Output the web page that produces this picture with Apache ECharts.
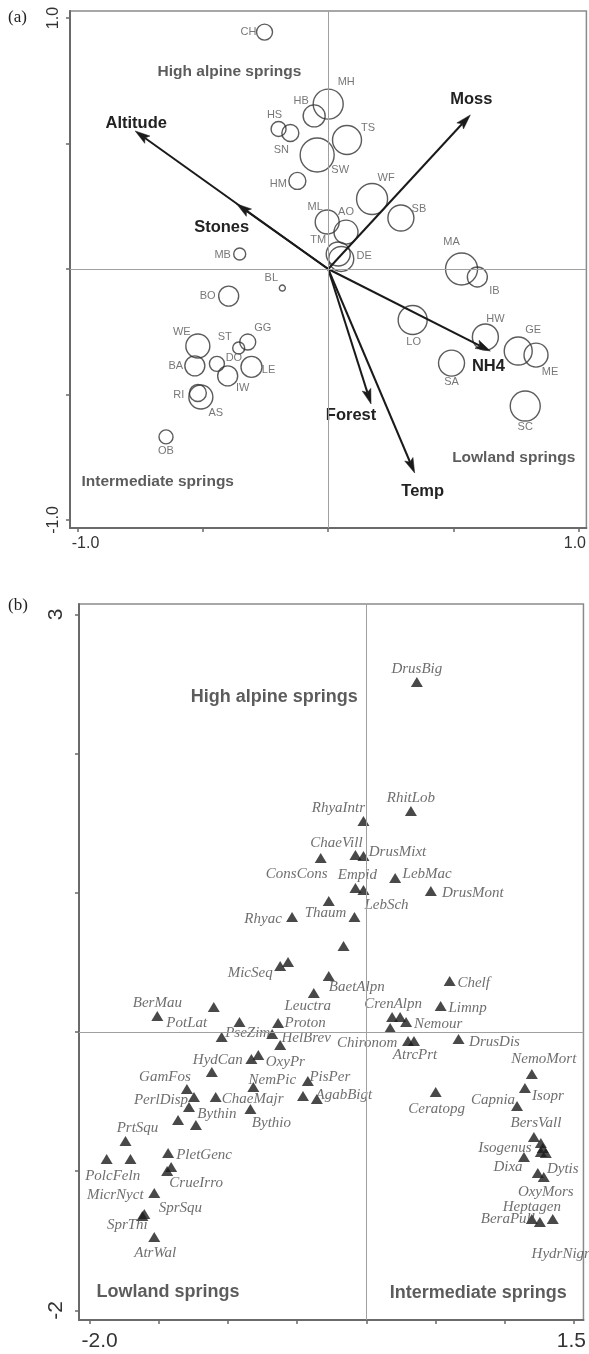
<!DOCTYPE html>
<html><head><meta charset="utf-8">
<script src="https://cdn.jsdelivr.net/npm/echarts@6/dist/echarts.min.js"></script>
<style>html,body{margin:0;padding:0;background:#fff}#c{width:589px;height:1354px}</style>
</head><body><div id="c"></div>
<script>
// ---------- Panel (a): sites ----------
const siteNames = ['CH','HS','SN','HM','HB','MH','TS','SW','WF','SB','ML','AO','TM','DE','MB','BL','BO','WE','ST','GG','DO','BA','LE','IW','RI','AS','OB','MA','IB','LO','HW','SA','GE','ME','SC'];
const siteX = [-0.254,-0.198,-0.151,-0.123,-0.056,0.000,0.075,-0.044,0.175,0.290,-0.004,0.071,0.040,0.052,-0.353,-0.183,-0.397,-0.520,-0.357,-0.321,-0.444,-0.532,-0.306,-0.401,-0.520,-0.508,-0.647,0.532,0.595,0.337,0.627,0.492,0.758,0.829,0.786];
const siteY = [0.944,0.558,0.542,0.351,0.610,0.657,0.514,0.454,0.279,0.203,0.187,0.147,0.060,0.040,0.060,-0.076,-0.108,-0.307,-0.315,-0.291,-0.378,-0.386,-0.390,-0.426,-0.494,-0.510,-0.669,0.000,-0.032,-0.203,-0.271,-0.375,-0.327,-0.343,-0.546];
// relative circle size variable
const siteWeight = [16,15,17,17,22,30,29,34,31,26,24,24,24,25,12,6,20,24,12,16,15,20,21,20,17,24,14,32,20,29,26,26,28,24,30];

// environmental vectors
const envNames = ['Altitude','Stones','Moss','NH4','Forest','Temp'];
const envX = [-0.770,-0.365,0.567,0.647,0.171,0.345];
const envY = [0.550,0.259,0.614,-0.327,-0.538,-0.813];

// group annotations
const groupNamesA = ['High alpine springs','Intermediate springs','Lowland springs'];
const groupXA = [-0.394,-0.680,0.740];
const groupYA = [0.785,-0.849,-0.753];

const ticksA = [-1,-0.5,0,0.5,1];
const tickLabelsA = [-1,1];

// ---------- Panel (b): species ----------
const speciesNames = ['DrusBig','RhitLob','RhyaIntr','ConsCons','ChaeVill','DrusMixt','LebMac','DrusMont','Empid','LebSch','','Thaum','Rhyac','','MicSeq','','BaetAlpn','Leuctra','PotLat','BerMau','','Proton','PseZim','HelBrev','','OxyPr','','HydCan','NemPic','GamFos','PerlDisp','','ChaeMajr','Bythin','','Bythio','PrtSqu','PolcFeln','','PletGenc','CrueIrro','','MicrNyct','SprSqu','SprThi','AtrWal','Chelf','Limnp','CrenAlpn','','Nemour','Chironom','AtrcPrt','','DrusDis','NemoMort','Isopr','Capnia','Ceratopg','PisPer','AgabBigt','','BersVall','Isogenus','','','','Dixa','OxyMors','Dytis','HydrNigr','Heptagen','BeraPull','BithTent'];
const speciesX = [0.365,0.322,-0.021,-0.330,-0.079,-0.021,0.208,0.466,-0.079,-0.021,-0.272,-0.086,-0.537,-0.165,-0.623,-0.566,-0.272,-0.380,-1.103,-1.511,-0.917,-0.638,-1.046,-0.681,-0.623,-0.781,-0.831,-1.117,-0.817,-1.297,-1.282,-1.246,-1.089,-1.232,-1.361,-0.838,-1.741,-1.877,-1.705,-1.433,-1.411,-1.440,-1.533,-1.605,-1.619,-1.533,0.602,0.537,0.186,0.244,0.287,0.172,0.301,0.344,0.666,1.196,1.146,1.089,0.501,-0.423,-0.358,-0.458,1.211,1.261,1.275,1.297,1.261,1.139,1.239,1.282,1.347,1.196,1.254];
const speciesY = [2.514,1.588,1.516,1.250,1.272,1.264,1.106,1.013,1.034,1.020,0.941,0.826,0.826,0.618,0.474,0.503,0.402,0.280,0.180,0.115,0.072,0.065,-0.036,-0.014,-0.093,-0.165,-0.194,-0.287,-0.395,-0.409,-0.539,-0.467,-0.467,-0.668,-0.632,-0.553,-0.783,-0.912,-0.912,-0.869,-0.970,-0.999,-1.157,-1.307,-1.322,-1.473,0.366,0.187,0.108,0.108,0.072,0.029,-0.065,-0.065,-0.050,-0.302,-0.402,-0.532,-0.431,-0.352,-0.481,-0.460,-0.754,-0.797,-0.833,-0.869,-0.862,-0.898,-1.013,-1.042,-1.343,-1.343,-1.365,-1.473];

const groupNamesB = ['High alpine springs','Lowland springs','Intermediate springs'];
const groupXB = [-0.666,-1.433,0.809];
const groupYB = [2.407,-1.868,-1.875];

const ticksBX = [-2,-1.5,-1,-0.5,0,0.5,1,1.5];
const ticksBY = [-2,-1,0,1,2,3];
const tickLabelsBX = [-2,1.5];
const tickLabelsBY = [-2,3];

// ---------- styles (label offsets in px) ----------
const siteLabelOffset = [[-16,0],[-4,-14],[-9,17],[-19,3],[-13,-15],[18,-22],[21,-12],[23,15],[14,-21],[18,-9],[-12,-15],[0,-20],[-20,-14],[23,-3],[-17,1],[-11,-10],[-21,0],[-16,-14],[-14,-11],[15,-14],[17,-6],[-19,0],[17,3],[15,12],[-19,2],[15,16],[0,14],[-10,-27],[17,14],[1,22],[10,-18],[0,19],[15,-21],[14,17],[0,21]];
const envLabelOffset = [[1,-8],[-15,23],[1,-15],[-2,15],[-20,11],[8,18]];
const speciesLabelOffset = [[0,-13],[0,-13],[-25,-13],[-24,16],[-19,-12],[34,-4],[32,-4],[42,2],[2,-13],[23,15],[0,0],[-29,-4],[-29,2],[0,0],[-30,7],[0,0],[28,11],[-6,13],[-27,16],[0,-13],[0,0],[27,0],[26,-4],[34,4],[0,0],[27,7],[0,0],[6,-12],[19,-7],[-22,-12],[-28,-7],[0,0],[37,2],[21,-11],[0,0],[21,14],[12,-13],[6,17],[0,0],[36,2],[25,16],[0,0],[-39,2],[36,-6],[-15,9],[1,16],[24,2],[27,2],[1,-13],[0,0],[32,2],[-23,15],[7,14],[0,0],[36,3],[12,-15],[23,8],[-24,-6],[1,17],[22,-4],[27,-4],[0,0],[2,-14],[-36,5],[0,0],[0,0],[0,0],[-16,10],[8,19],[19,-8],[8,35],[0,-12],[-32,-3],[-30,1]];

const SANS = '"Liberation Sans", Arial, Helvetica, sans-serif';
const SERIF = '"Liberation Serif", "Times New Roman", serif';

function fmt1(v){ return (Math.abs(v) < 1e-9 ? 0 : v).toFixed(1); }

function xAxisCfg(gi, min, max, ticks, labels, fontSize, margin, negPad, posPad, fmt){
  return {
    type:'value', gridIndex:gi, min:min, max:max, position:'bottom',
    axisLine:{show:true, onZero:false, lineStyle:{color:'#6a6a6a', width:2}},
    axisTick:{show:true, inside:false, length:4, customValues:ticks, lineStyle:{color:'#6a6a6a', width:1.5}},
    axisLabel:{show:true, customValues:labels, margin:margin,
      formatter:function(v){ return v < 0 ? '{n|' + fmt(v) + '}' : '{p|' + fmt(v) + '}'; },
      rich:{
        n:{fontFamily:SANS, fontSize:fontSize, color:'#333', padding:[0,0,0,negPad]},
        p:{fontFamily:SANS, fontSize:fontSize, color:'#333', padding:[0,posPad,0,0]}
      }},
    splitLine:{show:false}
  };
}
function yAxisCfg(gi, min, max, ticks, labels, fontSize, margin, fmt){
  return {
    type:'value', gridIndex:gi, min:min, max:max, position:'left',
    axisLine:{show:true, onZero:false, lineStyle:{color:'#6a6a6a', width:2}},
    axisTick:{show:true, inside:false, length:4, customValues:ticks, lineStyle:{color:'#6a6a6a', width:1.5}},
    axisLabel:{show:true, customValues:labels, rotate:90, margin:margin, fontFamily:SANS, fontSize:fontSize, color:'#333',
      formatter:function(v){ return fmt(v); }},
    splitLine:{show:false}
  };
}

const zeroLines = {
  silent:true, symbol:'none', label:{show:false},
  lineStyle:{color:'#a0a0a0', width:1, type:'solid'},
  emphasis:{disabled:true},
  data:[{xAxis:0},{yAxis:0}]
};

const siteData = siteNames.map((n,i)=>({
  name:n, value:[siteX[i], siteY[i], siteWeight[i]],
  label:{offset:siteLabelOffset[i]}
}));

const speciesData = speciesNames.map((n,i)=>({
  name:n, value:[speciesX[i], speciesY[i]],
  label:{offset:speciesLabelOffset[i]}
}));

function textSeries(xi, names, xs, ys, font){
  return {
    type:'scatter', xAxisIndex:xi, yAxisIndex:xi, symbol:'circle', symbolSize:1, silent:true,
    itemStyle:{color:'rgba(0,0,0,0)'},
    data:names.map((n,i)=>({name:n, value:[xs[i], ys[i]]})),
    label:{show:true, position:'inside', formatter:'{b}', fontFamily:SANS, fontWeight:'bold', fontSize:font, color:'#333', textBorderWidth:0},
    z:5
  };
}

const arrowSeries = {
  type:'custom', xAxisIndex:0, yAxisIndex:0, silent:true,
  data: envNames.map((n,i)=>({name:n, value:[envX[i], envY[i]]})),
  renderItem:function(params, api){
    const o = api.coord([0,0]);
    const t = api.coord([api.value(0), api.value(1)]);
    const dx=t[0]-o[0], dy=t[1]-o[1];
    const L=Math.hypot(dx,dy), ux=dx/L, uy=dy/L, px=-uy, py=ux;
    const hl=15, hw=4.5, notch=3;
    const bx=t[0]-ux*hl, by=t[1]-uy*hl;
    const nx=bx+ux*notch, ny=by+uy*notch;
    const off = envLabelOffset[params.dataIndex];
    return {type:'group', children:[
      {type:'line', shape:{x1:o[0], y1:o[1], x2:nx, y2:ny}, style:{stroke:'#1a1a1a', lineWidth:2}},
      {type:'polygon', shape:{points:[[t[0],t[1]],[bx+px*hw, by+py*hw],[nx,ny],[bx-px*hw, by-py*hw]]}, style:{fill:'#1a1a1a', stroke:'#1a1a1a', lineWidth:0.5}},
      {type:'text', style:{text:envNames[params.dataIndex], x:t[0]+off[0], y:t[1]+off[1], align:'center', verticalAlign:'middle',
        font:'bold 16.5px ' + SANS, fill:'#222'}}
    ]};
  },
  z:4
};

const chart = echarts.init(document.getElementById('c'), null, {renderer:'canvas', width:589, height:1354});
chart.setOption({
  animation:false,
  backgroundColor:'#fff',
  grid:[
    {left:70, top:11, width:518, height:517, show:true, borderColor:'#8a8a8a', borderWidth:1.5, backgroundColor:'transparent'},
    {left:79, top:604, width:509, height:716, show:true, borderColor:'#8a8a8a', borderWidth:1.5, backgroundColor:'transparent'}
  ],
  xAxis:[
    xAxisCfg(0, -1.03, 1.03, ticksA, tickLabelsA, 16, 8, 16, 8, fmt1),
    xAxisCfg(1, -2.077, 1.569, ticksBX, tickLabelsBX, 21, 11, 20, 5, fmt1)
  ],
  yAxis:[
    yAxisCfg(0, -1.032, 1.028, ticksA, tickLabelsA, 16, 8, fmt1),
    yAxisCfg(1, -2.069, 3.075, ticksBY, tickLabelsBY, 21, 12, function(v){return String(v);})
  ],
  series:[
    {
      type:'scatter', xAxisIndex:0, yAxisIndex:0, silent:true,
      symbol:'circle', symbolSize:function(v){ return v[2]; },
      itemStyle:{color:'rgba(0,0,0,0)', borderColor:'#333', borderWidth:1.4},
      data:siteData,
      label:{show:true, position:'inside', formatter:'{b}', fontFamily:SANS, fontSize:11, color:'#555', textBorderWidth:0},
      markLine:zeroLines,
      z:3
    },
    arrowSeries,
    textSeries(0, groupNamesA, groupXA, groupYA, 15.5),
    {
      type:'scatter', xAxisIndex:1, yAxisIndex:1, silent:true,
      symbol:'triangle', symbolSize:[12,10],
      itemStyle:{color:'#1c1c1c'},
      data:speciesData,
      label:{show:true, position:'inside', formatter:'{b}', fontFamily:SERIF, fontStyle:'italic', fontSize:15, color:'#4a4a4a', textBorderWidth:0},
      markLine:zeroLines,
      z:3
    },
    textSeries(1, groupNamesB, groupXB, groupYB, 18)
  ],
  graphic:[
    {type:'text', left:8, top:9, style:{text:'(a)', font:'17px ' + SERIF, fill:'#222'}},
    {type:'text', left:8, top:597, style:{text:'(b)', font:'17px ' + SERIF, fill:'#222'}}
  ]
});
</script>
</body></html>
